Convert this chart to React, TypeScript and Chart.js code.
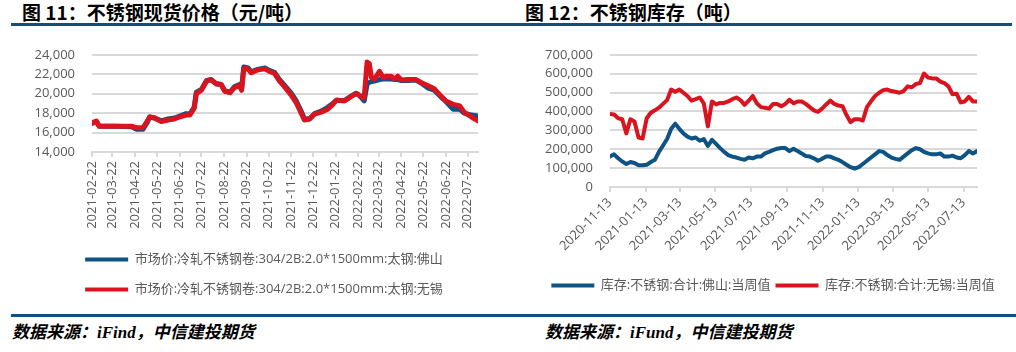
import React, { useEffect, useRef } from 'react';
import { Chart, registerables } from 'chart.js';

Chart.register(...registerables);

const BLUE = '#0d5384';
const RED = '#d9141e';
const RULE = '#0f5080';
const GRID = '#d9d9d9';
const TEXT = '#595959';
const FONT = "'Open Sans', 'Noto Sans CJK SC', sans-serif";

// ---- Figure 11: spot price (yuan/ton)
const priceDates = [
  '2021-02-22', '2021-02-28', '2021-03-04', '2021-03-25', '2021-04-17', '2021-04-24', '2021-05-03', '2021-05-09',
  '2021-05-12', '2021-05-19', '2021-05-28', '2021-06-06', '2021-06-15', '2021-06-24', '2021-07-01', '2021-07-06',
  '2021-07-12', '2021-07-15', '2021-07-22', '2021-07-29', '2021-08-04', '2021-08-11', '2021-08-18', '2021-08-23',
  '2021-08-30', '2021-09-05', '2021-09-12', '2021-09-15', '2021-09-18', '2021-09-24', '2021-09-28', '2021-10-07',
  '2021-10-17', '2021-10-23', '2021-10-30', '2021-11-06', '2021-11-13', '2021-11-22', '2021-11-29', '2021-12-06',
  '2021-12-10', '2021-12-17', '2021-12-24', '2022-01-02', '2022-01-11', '2022-01-18', '2022-01-23', '2022-02-03',
  '2022-02-12', '2022-02-19', '2022-02-23', '2022-03-02', '2022-03-06', '2022-03-09', '2022-03-12', '2022-03-16',
  '2022-03-23', '2022-03-28', '2022-04-01', '2022-04-08', '2022-04-13', '2022-04-17', '2022-04-22', '2022-05-01',
  '2022-05-12', '2022-05-19', '2022-05-28', '2022-06-06', '2022-06-16', '2022-06-22', '2022-07-02', '2022-07-11',
  '2022-07-17', '2022-07-27', '2022-08-05',
];
const foshanPrice = [
  16950, 17100, 16650, 16650, 16600, 16350, 16350, 17100,
  17600, 17500, 17200, 17400, 17500, 17750, 17950, 17900,
  18600, 20150, 20450, 21350, 21450, 21050, 20950, 20300,
  20150, 20700, 20950, 20500, 22750, 22650, 22250, 22500,
  22650, 22400, 22200, 21450, 20850, 20050, 19250, 18150,
  17450, 17400, 17950, 18200, 18600, 19000, 19300, 19300,
  19750, 20050, 19850, 19250, 21000, 21150, 21250, 21300,
  21450, 21500, 21500, 21500, 21450, 21450, 21350, 21350,
  21400, 21100, 20600, 20350, 19600, 19200, 18400, 18400,
  18000, 17800, 17700,
];
const wuxiPrice = [
  17030, 17190, 16650, 16650, 16650, 16500, 16500, 17200,
  17600, 17500, 17130, 17290, 17400, 17650, 17800, 17800,
  18500, 20000, 20350, 21300, 21450, 21000, 20950, 20250,
  20100, 20600, 20850, 20350, 22600, 22550, 22150, 22450,
  22550, 22300, 22100, 21300, 20700, 19850, 19050, 17950,
  17300, 17400, 17900, 18100, 18400, 18900, 19350, 19250,
  19700, 20000, 19850, 19550, 23250, 23100, 21650, 21500,
  22300, 21650, 21800, 21800, 21500, 21800, 21400, 21450,
  21450, 21150, 20850, 20500, 19700, 19250, 18900, 18750,
  18100, 17600, 17200,
];
const priceTickDates = [
  '2021-02-22', '2021-03-22', '2021-04-22', '2021-05-22', '2021-06-22', '2021-07-22', '2021-08-22', '2021-09-22',
  '2021-10-22', '2021-11-22', '2021-12-22', '2022-01-22', '2022-02-22', '2022-03-22', '2022-04-22', '2022-05-22',
  '2022-06-22', '2022-07-22',
];
const priceLabels = ['市场价:冷轧不锈钢卷:304/2B:2.0*1500mm:太钢:佛山', '市场价:冷轧不锈钢卷:304/2B:2.0*1500mm:太钢:无锡'];

// ---- Figure 12: inventory (tons), weekly from 2020-11-13
const stockStartDate = '2020-11-13';
const foshanStock = [
  161000, 173000, 152000, 135000, 122000, 132000, 127000, 115000, 115000, 118000,
  132000, 144000, 186000, 220000, 254000, 308000, 335000, 308000, 284000, 267000,
  257000, 262000, 245000, 254000, 217000, 250000, 228000, 206000, 186000, 169000,
  161000, 156000, 149000, 144000, 156000, 152000, 161000, 161000, 178000, 186000,
  195000, 203000, 206000, 206000, 190000, 203000, 190000, 178000, 164000, 161000,
  152000, 139000, 149000, 161000, 161000, 152000, 144000, 132000, 118000, 105000,
  98000, 105000, 122000, 139000, 156000, 173000, 190000, 186000, 169000, 156000,
  149000, 144000, 161000, 178000, 195000, 206000, 200000, 186000, 178000, 173000,
  173000, 178000, 161000, 161000, 166000, 156000, 152000, 169000, 190000, 178000,
  190000,
];
const wuxiStock = [
  386000, 384000, 364000, 359000, 284000, 359000, 347000, 262000, 257000, 364000,
  393000, 406000, 420000, 440000, 460000, 516000, 504000, 516000, 499000, 482000,
  457000, 465000, 474000, 443000, 321000, 453000, 437000, 445000, 445000, 453000,
  465000, 474000, 460000, 435000, 457000, 482000, 443000, 423000, 420000, 415000,
  440000, 440000, 428000, 440000, 462000, 443000, 453000, 453000, 440000, 423000,
  406000, 398000, 415000, 437000, 457000, 440000, 431000, 428000, 381000, 343000,
  359000, 359000, 352000, 423000, 453000, 482000, 499000, 513000, 516000, 508000,
  504000, 499000, 508000, 533000, 528000, 545000, 550000, 601000, 579000, 575000,
  575000, 558000, 550000, 533000, 491000, 494000, 448000, 453000, 477000, 453000,
  453000,
];
const stockTickDates = [
  '2020-11-13', '2021-01-13', '2021-03-13', '2021-05-13', '2021-07-13', '2021-09-13', '2021-11-13',
  '2022-01-13', '2022-03-13', '2022-05-13', '2022-07-13',
];
const stockLabels = ['库存:不锈钢:合计:佛山:当周值', '库存:不锈钢:合计:无锡:当周值'];

const DAY = 86400000;
const dayOf = (d: string, origin: string) => Math.round((Date.parse(d) - Date.parse(origin)) / DAY);
const fmt = (v: any) => Number(v).toLocaleString('en-US');

function lineDataset(label: string, color: string, data: any[], width: number, order: number) {
  return {
    label,
    data,
    borderColor: color,
    backgroundColor: color,
    borderWidth: width,
    pointRadius: 0,
    tension: 0,
    borderCapStyle: 'round',
    borderJoinStyle: 'round',
    order,
  };
}

function legendOptions(padding: number) {
  return {
    position: 'bottom',
    labels: {
      usePointStyle: true,
      pointStyle: 'line',
      pointStyleWidth: 43,
      padding,
      color: TEXT,
      font: { family: FONT, size: 13 },
      sort: (a: any, b: any) => a.datasetIndex - b.datasetIndex,
      generateLabels: (chart: any) =>
        (Chart.defaults.plugins.legend.labels as any)
          .generateLabels(chart)
          .map((l: any) => ({ ...l, lineWidth: 4 })),
    },
  };
}

function buildPriceChart(canvas: HTMLCanvasElement) {
  const origin = priceDates[0];
  const tickDays = priceTickDates.map((d) => dayOf(d, origin));
  const xs = priceDates.map((d) => dayOf(d, origin));
  return new Chart(canvas, {
    type: 'line',
    data: {
      datasets: [
        lineDataset(priceLabels[0], BLUE, xs.map((x, i) => ({ x, y: foshanPrice[i] })), 5, 2),
        lineDataset(priceLabels[1], RED, xs.map((x, i) => ({ x, y: wuxiPrice[i] })), 5, 1),
      ] as any,
    },
    options: {
      responsive: false,
      animation: false,
      events: [],
      layout: { padding: { top: 19, left: 0, right: 0, bottom: 0 } },
      plugins: {
        legend: legendOptions(17),
        tooltip: { enabled: false },
      },
      scales: {
        x: {
          type: 'linear',
          min: 0,
          max: xs[xs.length - 1],
          afterBuildTicks: (s: any) => {
            s.ticks = tickDays.map((v) => ({ value: v }));
          },
          afterFit: (s: any) => {
            s.height = 84;
            s.paddingRight = 31;
          },
          ticks: {
            autoSkip: false,
            minRotation: 90,
            maxRotation: 90,
            padding: 4,
            color: TEXT,
            font: { family: FONT, size: 13 },
            callback: (_v: any, i: number) => priceTickDates[i],
          },
          grid: { drawOnChartArea: false, tickLength: 5, color: GRID, lineWidth: 2 },
          border: { color: GRID, width: 2 },
        },
        y: {
          min: 14000,
          max: 24000,
          afterFit: (s: any) => {
            s.width = 73;
          },
          ticks: { stepSize: 2000, padding: 17, color: TEXT, font: { family: FONT, size: 13 }, callback: fmt },
          grid: { color: GRID, lineWidth: 2, drawTicks: false },
          border: { display: false },
        },
      },
    } as any,
  });
}

function buildStockChart(canvas: HTMLCanvasElement) {
  const tickDays = stockTickDates.map((d) => dayOf(d, stockStartDate));
  const xs = foshanStock.map((_, i) => i * 7);
  return new Chart(canvas, {
    type: 'line',
    data: {
      datasets: [
        lineDataset(stockLabels[0], BLUE, xs.map((x, i) => ({ x, y: foshanStock[i] })), 4, 2),
        lineDataset(stockLabels[1], RED, xs.map((x, i) => ({ x, y: wuxiStock[i] })), 4, 1),
      ] as any,
    },
    options: {
      responsive: false,
      animation: false,
      events: [],
      layout: { padding: { top: 19, left: 0, right: 0, bottom: 0 } },
      plugins: {
        legend: legendOptions(5),
        tooltip: { enabled: false },
      },
      scales: {
        x: {
          type: 'linear',
          min: 0,
          max: xs[xs.length - 1],
          afterBuildTicks: (s: any) => {
            s.ticks = tickDays.map((v) => ({ value: v }));
          },
          afterFit: (s: any) => {
            s.height = 87;
            s.paddingRight = 39;
          },
          ticks: {
            autoSkip: false,
            minRotation: 45,
            maxRotation: 45,
            padding: 3,
            color: TEXT,
            font: { family: FONT, size: 13 },
            callback: (_v: any, i: number) => stockTickDates[i],
          },
          grid: { drawOnChartArea: false, tickLength: 5, color: GRID, lineWidth: 2 },
          border: { color: GRID, width: 2 },
        },
        y: {
          min: 0,
          max: 700000,
          afterFit: (s: any) => {
            s.width = 80;
          },
          ticks: { stepSize: 100000, padding: 17, color: TEXT, font: { family: FONT, size: 13 }, callback: fmt },
          grid: { color: GRID, lineWidth: 2, drawTicks: false },
          border: { display: false },
        },
      },
    } as any,
  });
}

const titleStyle: React.CSSProperties = {
  position: 'absolute',
  top: 2,
  font: "bold 19px/19px 'Noto Sans CJK SC', sans-serif",
  color: '#000',
  whiteSpace: 'nowrap',
};
const footStyle: React.CSSProperties = {
  position: 'absolute',
  top: 324,
  font: "italic bold 17px/18px 'Liberation Serif', 'Noto Sans CJK SC', serif",
  color: '#000',
  whiteSpace: 'nowrap',
};

export default function App() {
  const leftRef = useRef<HTMLCanvasElement>(null);
  const rightRef = useRef<HTMLCanvasElement>(null);

  useEffect(() => {
    const a = buildPriceChart(leftRef.current!);
    const b = buildStockChart(rightRef.current!);
    return () => {
      a.destroy();
      b.destroy();
    };
  }, []);

  return (
    <div style={{ position: 'fixed', left: 0, top: 0, width: 1016, height: 352, background: '#fff', overflow: 'hidden' }}>
      <div style={{ ...titleStyle, left: 22 }}>图 11：不锈钢现货价格（元/吨）</div>
      <div style={{ ...titleStyle, left: 525 }}>图 12：不锈钢库存（吨）</div>
      <div style={{ position: 'absolute', left: 11, top: 23, width: 1001, height: 3, background: RULE }} />
      <canvas ref={leftRef} width={490} height={276} style={{ position: 'absolute', left: 19, top: 30, width: 490, height: 276 }} />
      <canvas ref={rightRef} width={486} height={272} style={{ position: 'absolute', left: 530, top: 30, width: 486, height: 272 }} />
      <div style={{ position: 'absolute', left: 11, top: 314, width: 1005, height: 3, background: RULE }} />
      <div style={{ ...footStyle, left: 12 }}>数据来源：iFind，中信建投期货</div>
      <div style={{ ...footStyle, left: 545 }}>数据来源：iFund，中信建投期货</div>
    </div>
  );
}
